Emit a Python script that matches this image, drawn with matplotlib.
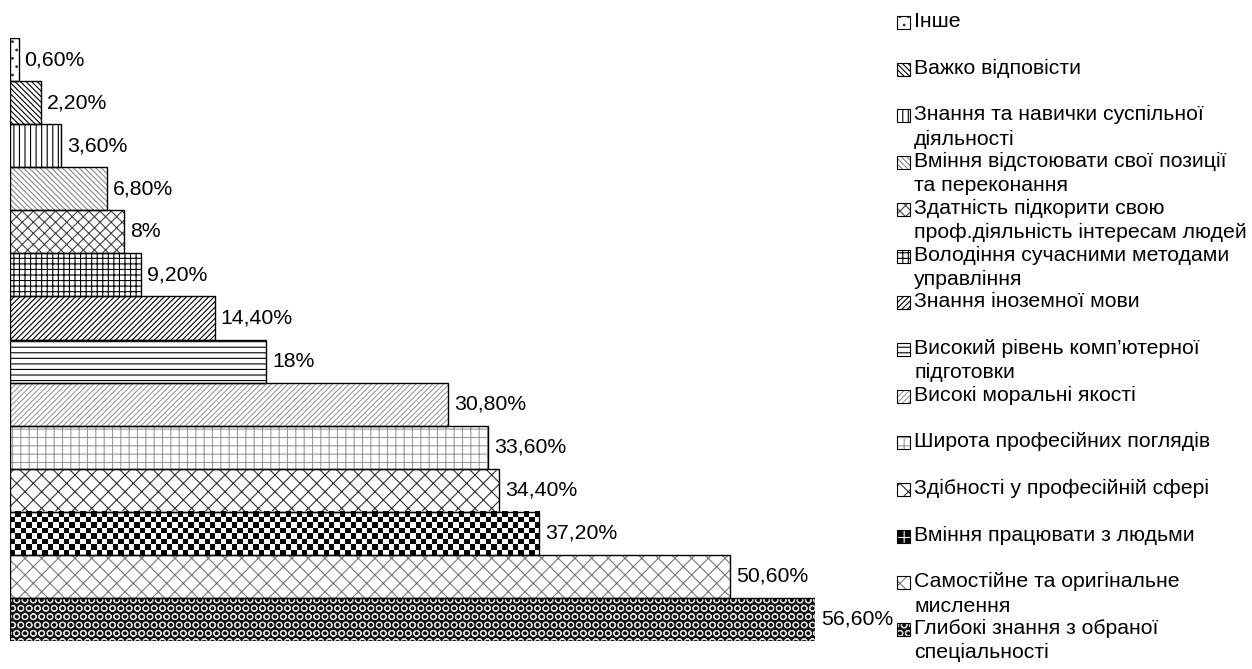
import numpy as np
import matplotlib.pyplot as plt
from matplotlib.patches import Rectangle

plt.rcParams['font.family'] = ['Liberation Sans', 'DejaVu Sans']
plt.rcParams['hatch.linewidth'] = 0.8

# ── Data (top to bottom) ───────────────────────────────────────────────────────
categories = [
    "Інше",
    "Важко відповісти",
    "Знання та навички суспільної\nдіяльності",
    "Вміння відстоювати свої позиції\nта переконання",
    "Здатність підкорити свою\nпроф.діяльність інтересам людей",
    "Володіння сучасними методами\nуправління",
    "Знання іноземної мови",
    "Високий рівень комп’ютерної\nпідготовки",
    "Високі моральні якості",
    "Широта професійних поглядів",
    "Здібності у професійній сфері",
    "Вміння працювати з людьми",
    "Самостійне та оригінальне\nмислення",
    "Глибокі знання з обраної\nспеціальності",
]
values = [0.6, 2.2, 3.6, 6.8, 8.0, 9.2, 14.4, 18.0, 30.8, 33.6, 34.4, 37.2, 50.6, 56.6]

# ── Fill styles: (hatch, face colour, hatch colour) ───────────────────────────
styles = [
    ('..',       'white',   '#333333'),
    ('\\' * 6,   'white',   'black'),
    ('|||',      'white',   'black'),
    ('\\' * 6,   'white',   '#888888'),
    ('xxx',      'white',   '#444444'),
    ('+++',      'white',   'black'),
    ('/' * 6,    'white',   'black'),
    ('---',      'white',   'black'),
    ('/' * 6,    'white',   '#999999'),
    ('++',       'white',   '#999999'),
    ('xx',       'white',   '#333333'),
    ('++',       'black',   'white'),     # checkerboard, texture drawn below
    ('xx',       'white',   '#777777'),
    ('OO',       '#111111', '#dddddd'),
]
CHECKER = 11
FS = 15.3


def fmt_pct(v):
    if float(v).is_integer():
        return f"{int(v)}%"
    return f"{v:.2f}%".replace('.', ',')


W, H = 1252, 669
fig = plt.figure(figsize=(W / 100, H / 100), dpi=100)
ax = fig.add_axes([10 / W, 28 / H, 805 / W, 603 / H])

for i, (v, (hatch, face, hcol)) in enumerate(zip(values, styles)):
    if i == CHECKER:
        # black/white checkerboard, ~5 px cells
        nx = int(round(v / max(values) * 805 / 5.4))
        ny = 8
        checker = np.add.outer(np.arange(ny), np.arange(nx)) % 2
        ax.imshow(checker, cmap='gray', extent=(0, v, i - 0.5, i + 0.5),
                  aspect='auto', interpolation='nearest', zorder=1)
    else:
        ax.barh(i, v, height=1.0, color=face, hatch=hatch,
                edgecolor=hcol, linewidth=0, zorder=1)
    ax.barh(i, v, height=1.0, fill=False, edgecolor='black',
            linewidth=1.0, zorder=2)
    ax.annotate(fmt_pct(v), (v, i), xytext=(6, 0), textcoords='offset pixels',
                va='center', ha='left', fontsize=FS, annotation_clip=False)

ax.set_xlim(0, max(values))
ax.set_ylim(len(values) - 0.5, -0.5)
ax.axis('off')

# ── Legend (manual, icon + wrapped label) ─────────────────────────────────────
LEG_TOP, LEG_STEP = 22, 46.7
for i, (cat, (hatch, face, hcol)) in enumerate(zip(categories, styles)):
    yc = LEG_TOP + i * LEG_STEP
    box = (897 / W, 1 - (yc + 7) / H)
    fig.patches.append(Rectangle(box, 13 / W, 13 / H,
                                 transform=fig.transFigure, facecolor=face,
                                 hatch=hatch, edgecolor=hcol, linewidth=0))
    fig.patches.append(Rectangle(box, 13 / W, 13 / H,
                                 transform=fig.transFigure, fill=False,
                                 edgecolor='black', linewidth=0.8))
    fig.text(914 / W, 1 - (yc - 10) / H, cat, ha='left', va='top',
             fontsize=FS, linespacing=1.35)

fig.savefig('out.png', dpi=100)
